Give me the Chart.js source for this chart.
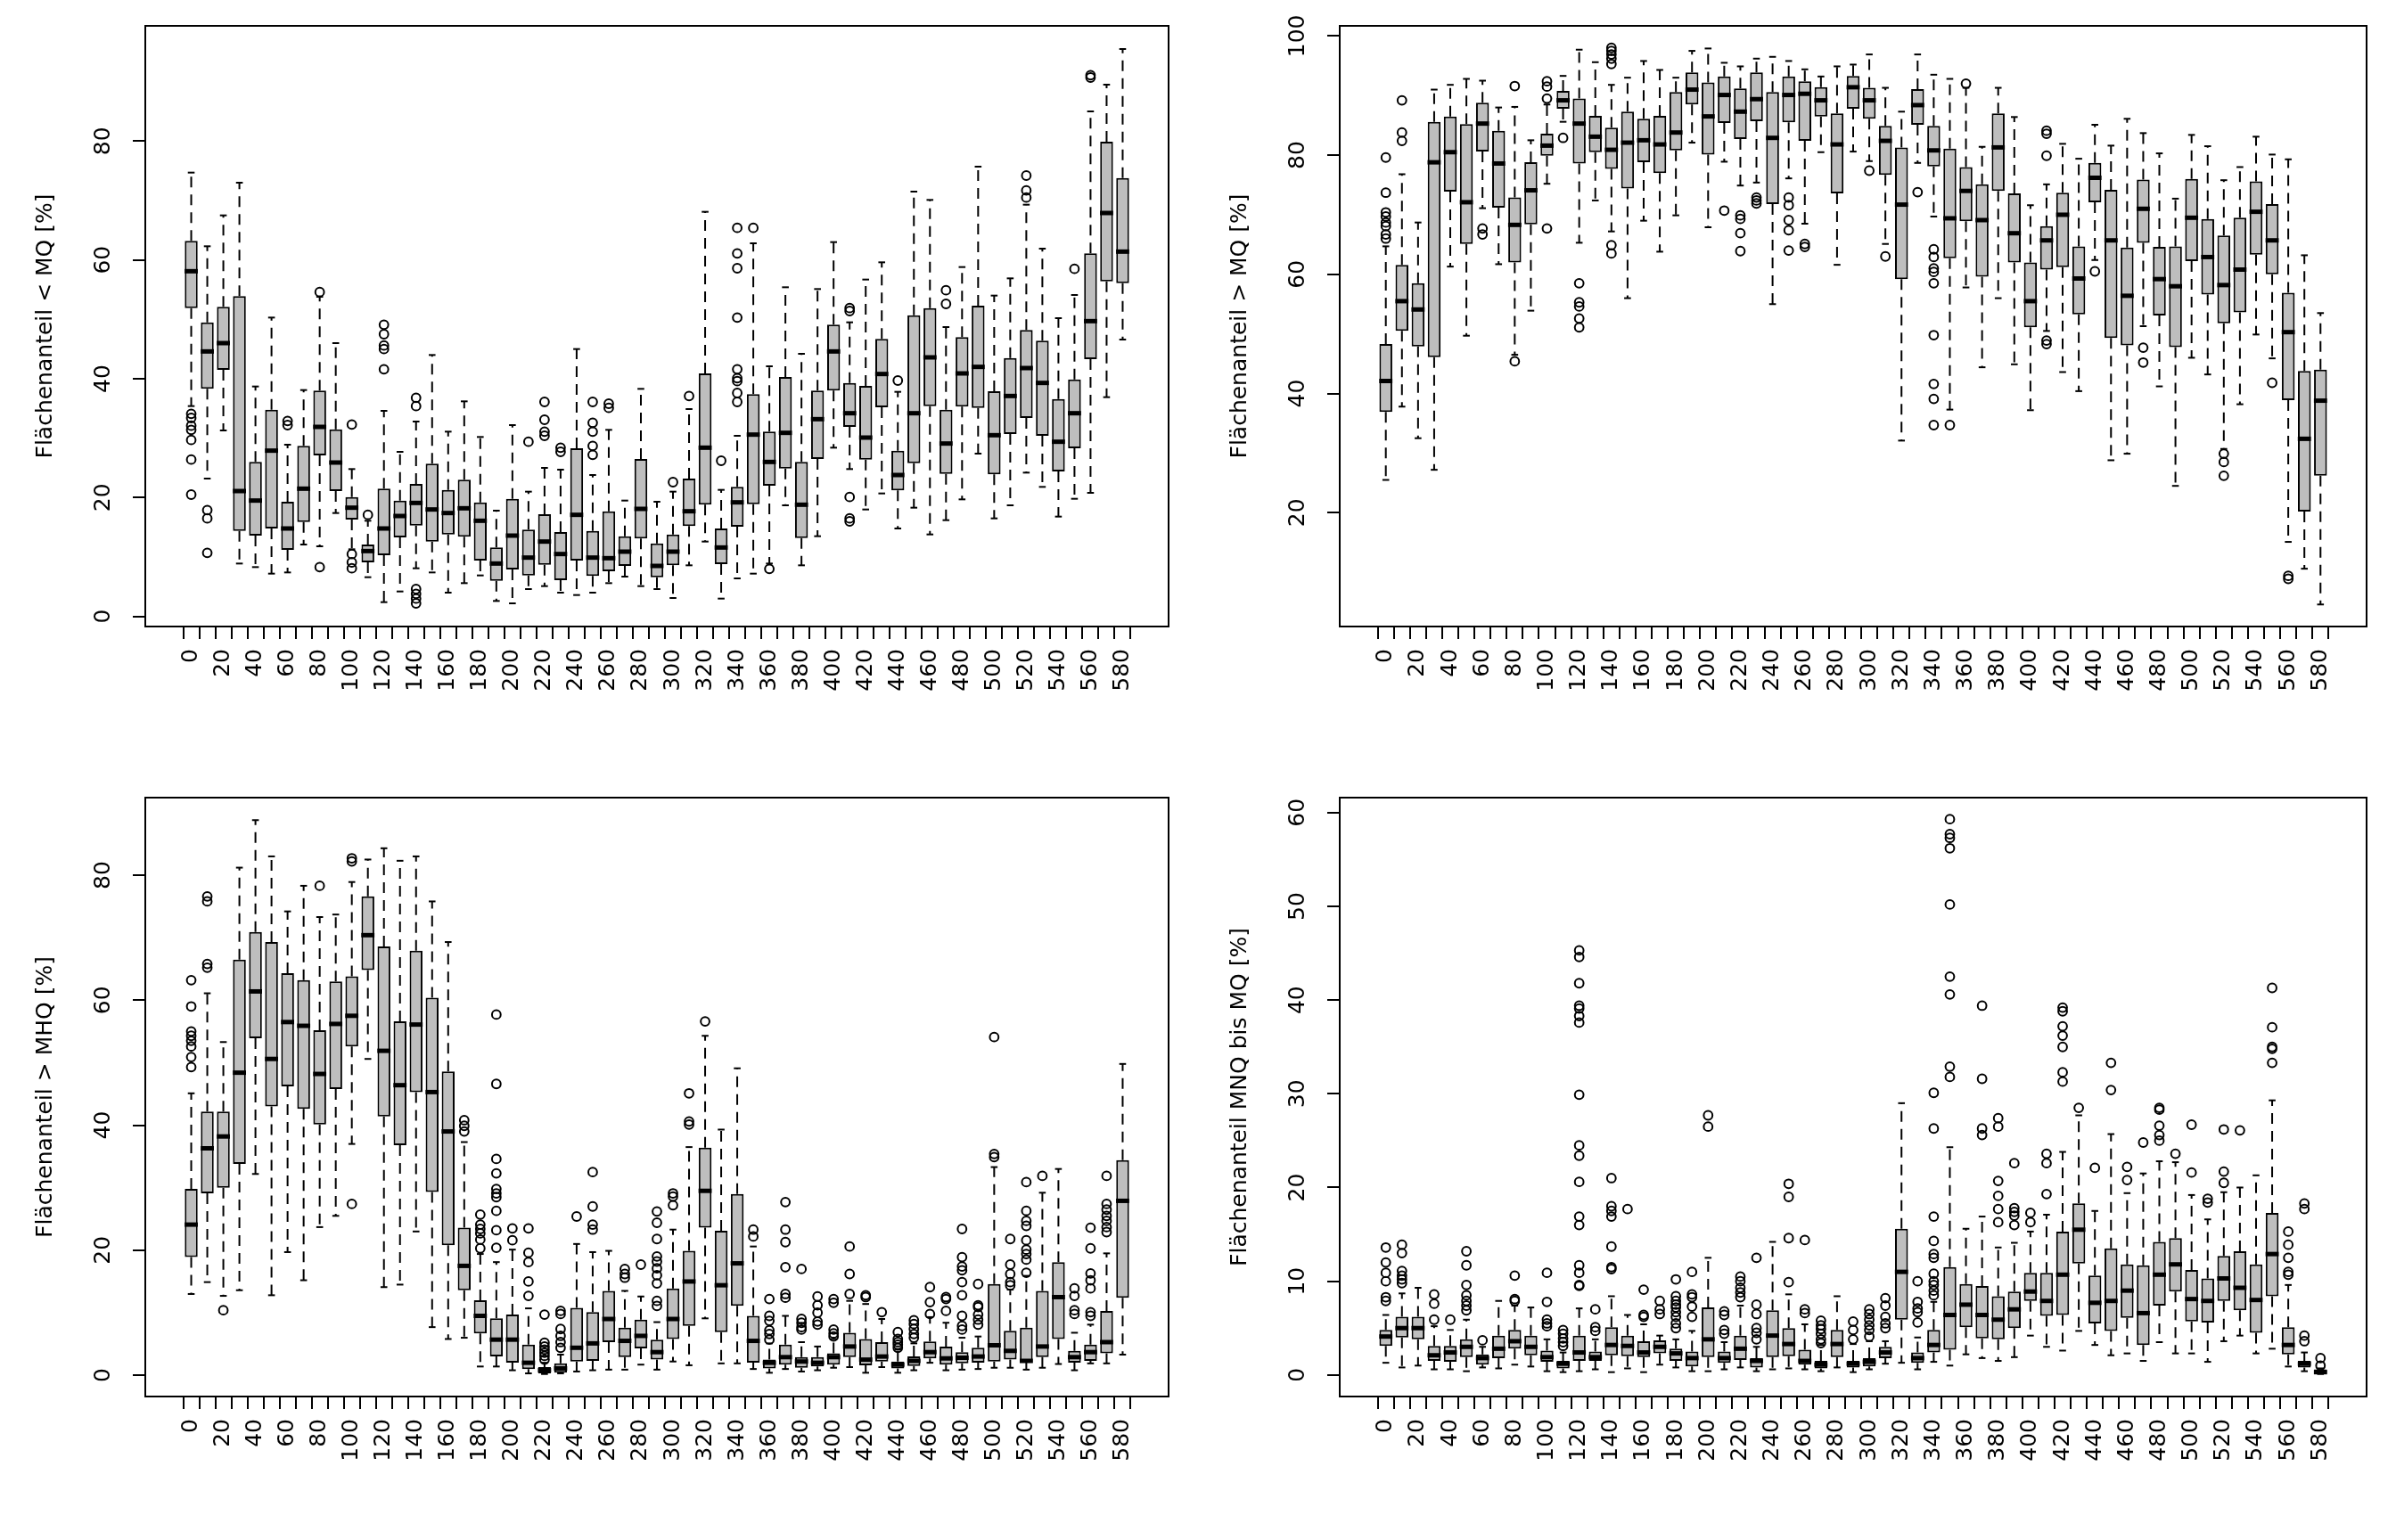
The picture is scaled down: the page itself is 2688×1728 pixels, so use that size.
<!DOCTYPE html>
<html>
<head>
<meta charset="utf-8">
<script src="https://cdn.jsdelivr.net/npm/chart.js@4.4.1/dist/chart.umd.min.js"></script>
<style>
  html, body { margin: 0; padding: 0; background: #fff; }
  #wrap { position: relative; width: 2688px; height: 1728px; background: #fff; }
  canvas { position: absolute; }
</style>
</head>
<body>
<div id="wrap">
  <canvas id="c1" width="1344" height="864" style="left:0;top:0"></canvas>
  <canvas id="c2" width="1344" height="864" style="left:1344px;top:0"></canvas>
  <canvas id="c3" width="1344" height="864" style="left:0;top:864px"></canvas>
  <canvas id="c4" width="1344" height="864" style="left:1344px;top:864px"></canvas>
</div>
<script>
// classes on the x axis
const classes = [0,10,20,30,40,50,60,70,80,90,100,110,120,130,140,150,160,170,180,190,
  200,210,220,230,240,250,260,270,280,290,300,310,320,330,340,350,360,370,380,390,
  400,410,420,430,440,450,460,470,480,490,500,510,520,530,540,550,560,570,580];

const yTicksPct = [0, 20, 40, 60, 80];
const yTicksHigh = [20, 40, 60, 80, 100];
const yTicksMnq = [0, 10, 20, 30, 40, 50, 60];

// ---- panel 1: Flächenanteil < MQ
const p1Lo = [35.4,23.2,31.3,8.9,8.3,7.2,7.4,12.1,11.8,17.4,11.3,6.6,2.4,4.2,8.1,7.4,4.0,5.6,6.9,2.6,
  2.2,4.6,5.1,4.0,3.6,4.0,5.6,6.7,5.1,4.6,3.1,8.6,12.6,3.0,6.4,7.2,8.9,18.7,8.6,13.5,
  28.4,24.8,18.0,20.7,14.8,18.3,13.8,16.2,19.7,27.4,16.5,18.7,24.2,21.8,16.8,19.8,20.8,36.9,46.6];
const p1Q1 = [51.9,38.3,41.5,14.4,13.6,14.8,11.2,15.9,27.1,21.1,16.3,9.1,10.3,13.3,15.3,12.6,13.8,13.4,9.4,6.0,
  7.9,6.9,8.7,6.1,9.4,6.8,7.6,8.5,13.1,6.6,8.6,15.2,18.8,8.8,15.1,18.9,22.0,24.9,13.2,26.5,
  38.0,31.9,26.4,35.2,21.2,25.8,35.4,24.0,35.3,35.1,23.9,30.7,33.4,30.4,24.4,28.3,43.3,56.4,56.1];
const p1Med = [58.1,44.6,46.0,21.1,19.5,27.9,14.8,21.5,31.9,25.9,18.3,11.0,14.8,16.9,19.1,18.0,17.4,18.2,16.1,8.9,
  13.6,9.9,12.6,10.5,17.1,9.9,9.8,10.9,18.1,8.5,10.9,17.7,28.4,11.6,19.2,30.6,26.0,30.9,18.8,33.2,
  44.6,34.2,30.1,40.8,23.8,34.2,43.6,29.1,40.9,42.0,30.5,37.1,41.8,39.3,29.4,34.2,49.7,67.9,61.4];
const p1Q3 = [63.2,49.5,52.1,53.9,26.0,34.8,19.3,28.7,38.0,31.5,20.1,12.1,21.5,19.5,22.3,25.7,21.3,23.0,19.2,11.6,
  19.8,14.6,17.2,14.2,28.3,14.4,17.7,13.5,26.5,12.3,13.8,23.2,40.9,14.8,21.8,37.4,31.1,40.3,26.0,38.0,
  49.1,39.3,38.8,46.7,27.9,50.7,51.9,34.8,47.0,52.3,37.9,43.5,48.2,46.4,36.6,39.9,61.1,79.9,73.8];
const p1Hi = [74.7,62.3,67.5,73.0,38.7,50.3,28.9,38.1,53.8,46.0,24.8,16.1,34.6,27.7,32.8,44.0,31.1,36.2,30.2,17.8,
  32.2,21.0,25.0,24.7,45.0,23.8,31.4,19.5,38.3,19.3,21.0,34.9,68.1,21.3,30.4,62.8,42.1,55.4,44.2,55.1,
  63.0,49.5,56.7,59.6,37.8,71.5,70.1,48.7,58.8,75.7,54.0,56.9,69.3,61.9,50.2,54.1,85.0,89.5,95.5];
const p1Out = [[34.1,33.4,32.1,31.4,29.7,26.4,20.5],[17.9,16.5,10.7],[],[],[],[],[32.9,32.2],[],[54.6,8.3],[],
  [32.3,10.5,9.1,8.1],[17.1],[49.1,47.5,45.6,45.0,41.6],[],[36.8,35.4,4.6,3.8,3.0,2.2],[],[],[],[],[],
  [],[29.4],[36.1,33.1,31.1,30.4],[28.4,27.7],[],[36.1,32.6,31.1,28.7,27.2],[35.8,35.1],[],[],[],
  [22.6],[37.1],[],[26.2],[65.4,61.1,58.6,50.3,41.6,40.1,39.6,37.6,36.1],[65.4],[8.0],[],[],[],
  [],[51.9,51.4,20.1,16.5,16.0],[],[],[39.7],[],[],[54.9,52.6],[],[],
  [],[],[74.2,71.7,70.5],[],[],[58.5],[91.1,90.7],[],[]];

// ---- panel 2: Flächenanteil > MQ
const p2Lo = [25.5,37.8,32.5,27.2,61.3,49.7,71.1,61.7,46.5,53.9,75.2,85.6,65.3,72.4,67.2,56.0,69.0,63.8,69.9,82.1,
  67.9,78.9,74.9,75.4,55.0,76.1,68.5,80.5,61.6,80.6,79.0,65.1,32.1,78.7,69.7,37.3,57.8,44.4,56.0,44.9,
  37.2,50.5,43.6,40.4,62.4,28.8,29.9,51.3,41.2,24.5,46.0,43.2,30.7,38.2,49.9,45.9,15.1,10.6,4.6];
const p2Q1 = [36.9,50.5,47.9,46.1,73.9,65.1,80.6,71.2,62.0,68.4,79.9,87.8,78.6,80.5,77.7,74.4,78.8,77.0,80.8,88.5,
  80.1,85.4,82.7,85.7,71.8,85.5,82.4,86.5,73.6,87.8,86.1,76.7,59.2,85.1,78.1,62.7,68.9,59.6,74.0,62.0,
  51.1,60.8,61.2,53.3,72.1,49.3,48.1,65.3,53.1,47.8,62.2,56.6,51.8,53.6,63.3,60.0,38.9,20.2,26.2];
const p2Med = [42.1,55.5,54.1,78.8,80.5,72.1,85.3,78.6,68.3,74.1,81.6,89.2,85.3,83.1,80.9,82.1,82.5,81.8,83.8,91.0,
  86.5,90.1,87.3,89.4,82.9,90.1,90.3,89.2,81.8,91.4,89.2,82.4,71.7,88.4,80.8,69.4,74.0,69.1,81.3,66.9,
  55.5,65.7,70.0,59.3,76.2,65.7,56.4,71.0,59.2,58.0,69.5,62.9,58.2,60.8,70.5,65.7,50.3,32.4,38.8];
const p2Q3 = [48.3,61.6,58.5,85.6,86.5,85.2,88.8,84.1,72.9,78.8,83.6,90.8,89.5,86.6,84.6,87.3,86.1,86.6,90.6,93.9,
  92.2,93.2,91.2,93.9,90.6,93.2,92.4,91.4,87.0,93.3,91.3,84.9,81.3,91.1,84.9,81.1,78.0,75.1,87.0,73.6,
  62.0,68.1,73.7,64.7,78.7,74.2,64.5,75.9,64.6,64.7,76.0,69.3,66.5,69.5,75.6,71.8,56.9,43.8,44.0];
const p2Hi = [64.7,76.8,68.7,91.0,91.8,92.8,92.5,88.0,88.1,82.5,88.5,93.3,97.7,95.6,91.8,93.0,95.8,94.3,93.0,97.5,
  97.9,95.5,94.9,96.2,96.5,95.8,94.4,93.2,94.9,95.2,96.9,91.3,87.3,96.9,93.5,92.8,91.3,81.4,91.3,86.4,
  71.6,75.1,81.9,79.4,85.1,81.6,86.1,83.7,80.3,72.7,83.4,81.5,75.8,78.0,83.1,80.1,79.3,63.2,53.5];
const p2Out = [[79.6,73.7,70.4,69.7,68.7,68.1,66.7,66.0],[89.2,83.8,82.4],[],[],[],[],[67.7,66.7],[],[91.6,45.4],[],
  [92.4,91.5,89.5,67.7],[82.9],[58.5,55.3,54.6,52.6,51.1],[],[98.0,97.5,96.9,96.2,95.3,64.9,63.5],[],[],[],[],[],
  [],[70.7],[69.9,69.3,66.9,63.9],[72.9,72.4,71.9],[],[72.9,71.6,69.1,67.4,64.0],[65.1,64.6],[],[],[],
  [77.4],[63.0],[],[73.8],[64.2,62.9,61.0,60.4,58.5,49.8,41.6,39.1,34.7],[34.7],[92.0],[],[],[],
  [],[84.1,83.6,79.9,48.9,48.3],[],[],[60.5],[],[],[47.7,45.2],[],[],
  [],[],[29.9,28.5,26.2],[],[],[41.8],[9.4,8.9],[],[]];

// ---- panel 3: Flächenanteil > MHQ
const p3Lo = [13.0,14.9,12.7,13.6,32.2,12.8,19.7,15.2,23.7,25.5,37.0,50.6,14.1,14.5,23.0,7.7,5.8,6.0,1.4,1.4,
  0.8,0.3,0.2,0.3,0.6,0.8,0.9,0.9,1.7,0.9,2.2,1.6,9.1,1.9,1.9,1.0,0.4,1.0,0.6,0.8,
  1.2,1.3,0.4,1.3,0.4,0.8,2.0,0.8,0.9,1.0,1.2,1.2,0.9,1.2,1.8,0.8,1.9,1.9,3.3];
const p3Q1 = [18.9,29.1,30.0,33.8,53.9,43.0,46.2,42.6,40.1,45.8,52.6,64.8,41.4,36.8,45.3,29.3,20.8,13.6,6.7,3.0,
  2.0,1.0,0.3,0.4,2.2,2.3,5.3,2.9,4.3,2.5,5.8,7.9,23.6,6.9,11.1,2.0,1.1,1.7,1.2,1.4,
  1.7,2.9,1.6,2.2,1.1,1.5,2.7,1.7,1.9,2.0,2.2,2.5,2.0,2.9,5.8,2.0,2.3,3.5,12.4];
const p3Med = [24.1,36.3,38.2,48.4,61.4,50.6,56.5,55.9,48.2,56.2,57.5,70.4,51.9,46.4,56.1,45.3,39.0,17.5,9.5,5.7,
  5.7,2.0,0.8,1.1,4.4,5.1,9.0,5.5,6.3,3.7,9.0,15.0,29.5,14.4,17.9,5.5,2.0,2.9,2.2,2.0,
  2.9,4.6,2.5,3.0,1.7,2.3,3.7,2.7,2.8,3.0,4.8,3.9,2.3,4.6,12.5,2.9,3.7,5.3,27.9];
const p3Q3 = [29.8,42.2,42.2,66.5,70.9,69.3,64.3,63.2,55.2,63.0,63.8,76.6,68.6,56.6,67.9,60.4,48.6,23.6,12.0,9.1,
  9.7,4.9,1.3,1.9,10.8,10.1,13.5,7.6,8.9,5.7,13.9,19.9,36.4,23.1,29.0,9.5,2.5,4.9,2.9,2.9,
  3.5,6.8,5.8,5.3,2.2,3.0,5.4,4.6,3.7,4.4,14.6,7.1,7.6,13.5,18.1,3.9,4.9,10.3,34.4];
const p3Hi = [45.1,61.1,53.3,81.2,88.8,83.0,74.2,78.3,73.3,73.7,78.9,82.5,84.3,82.3,83.0,75.8,69.3,37.3,19.4,18.1,
  20.1,10.7,2.0,3.3,21.0,19.7,19.9,13.5,12.6,8.5,23.3,36.5,54.3,39.3,49.1,20.6,5.1,9.5,5.3,4.6,
  5.8,11.9,11.4,9.0,4.1,5.1,9.3,8.4,6.0,6.2,33.3,13.7,15.9,29.2,33.0,6.8,8.1,19.5,49.8];
const p3Out = [[63.2,59.0,55.0,54.3,53.5,52.6,50.9,49.3],[76.6,75.8,65.8,65.2],[10.4],[],[],[],[],[],[78.3],[],
  [82.7,82.2,27.4],[],[],[],[],[],[],[40.8,39.9,39.0],[25.7,24.1,23.4,22.7,21.7,20.3],[57.7,46.6,34.6,32.3,29.8,29.1,28.5,26.3,23.2,20.4],
  [23.5,21.6],[23.5,19.6,18.1,15.0,12.7],[9.7,5.2,4.6,4.1,3.6,3.1,2.5],[10.3,9.8,7.4,6.3,5.3,4.4],[25.4],[32.5,27.0,24.1,23.3],[],[17.0,16.2,15.6],[17.7],[26.2,24.4,21.8,19.0,18.2,17.1,16.0,14.7,11.9,11.1],
  [29.1,28.6,27.2],[45.1,40.6,40.1],[56.6],[],[],[23.3,22.2],[12.2,9.5,8.7,7.2,6.6,5.7],[27.7,23.3,21.3,17.3,13.0,12.4],[17.0,9.0,8.4,7.7,7.3],[12.6,11.2,10.0,8.6,8.1],
  [12.2,11.6,7.3,6.7,6.2],[20.6,16.2,13.0],[12.8,12.5],[10.1],[6.9,5.8,5.3,4.9,4.4],[8.8,8.2,7.4,6.6,6.0],[14.1,11.7,9.8],[12.5,12.2,10.3],[23.4,18.9,17.4,16.8,14.9,12.8,9.5,7.9,7.3],[14.6,11.2,10.9,9.7,8.9,8.1],
  [54.1,35.4,34.9],[21.8,17.7,16.2,14.9,14.4],[30.9,26.3,24.7,23.9,21.6,20.1,19.4,18.5,16.4],[31.9],[],[13.9,12.7,10.4,9.8],[23.6,20.3,16.3,15.2,13.9,10.1,9.5],[31.9,27.4,26.5,25.5,24.7,23.7,22.9],[]];

// ---- panel 4: Flächenanteil MNQ bis MQ
const p4Lo = [1.3,0.8,1.0,0.6,0.6,0.4,0.8,0.7,1.1,0.9,0.4,0.3,0.4,0.6,0.3,0.7,0.3,1.1,0.8,0.4,
  0.4,0.6,0.8,0.4,0.6,0.7,0.6,0.4,0.8,0.3,0.6,1.2,1.3,0.6,1.4,1.0,2.2,1.8,1.5,1.9,
  4.2,3.0,2.6,4.7,3.2,2.1,2.3,1.5,3.5,2.3,2.3,1.4,3.6,4.2,2.3,2.8,0.9,0.4,0.1];
const p4Q1 = [3.1,4.0,3.8,1.5,1.4,1.9,1.1,1.8,2.8,2.1,1.4,0.7,1.5,1.5,2.1,2.0,1.9,2.3,1.5,0.9,
  1.9,1.3,1.6,0.8,1.9,2.0,1.1,0.7,1.9,0.8,0.9,1.8,5.9,1.3,2.4,2.7,5.1,3.9,3.8,5.0,
  7.9,6.3,6.4,11.9,5.5,4.7,6.1,3.2,7.4,8.9,5.7,5.6,7.9,6.9,4.5,8.4,2.2,0.8,0.2];
const p4Med = [4.1,5.0,5.0,2.1,2.4,3.0,1.8,2.8,3.6,3.0,1.9,1.2,2.4,1.9,3.2,3.1,2.4,3.0,2.3,1.8,
  3.8,1.8,2.8,1.5,4.2,3.3,1.5,1.1,3.3,1.2,1.4,2.4,11.0,1.8,3.2,6.4,7.5,6.4,5.9,7.0,
  8.9,7.9,10.7,15.5,7.7,7.9,9.0,6.6,10.7,11.8,8.1,7.9,10.3,9.3,8.0,12.9,3.2,1.2,0.3];
const p4Q3 = [4.8,6.2,6.2,3.1,3.1,3.8,2.2,4.2,4.8,4.2,2.6,1.5,4.2,2.5,5.1,4.2,3.6,3.7,2.8,2.5,
  7.2,2.5,4.2,1.8,6.9,5.0,2.7,1.5,4.8,1.5,1.8,3.0,15.6,2.4,4.8,11.5,9.7,9.5,8.4,8.9,
  10.9,10.9,15.3,18.3,10.6,13.5,11.8,11.7,14.2,14.6,11.2,10.3,12.7,13.2,11.8,17.3,5.1,1.5,0.6];
const p4Hi = [6.4,8.7,9.3,5.2,4.8,5.9,3.0,7.9,7.4,7.2,3.8,2.4,7.1,3.8,8.4,6.4,5.4,4.2,3.8,4.7,
  12.5,3.5,7.4,3.0,14.2,8.6,5.4,3.2,8.4,3.3,3.6,3.6,29.0,4.0,7.8,24.3,15.6,16.9,13.6,14.1,
  15.3,17.1,23.8,27.7,17.5,25.7,19.4,21.5,22.8,22.7,19.2,16.6,19.5,20.0,21.3,29.3,9.6,2.4,0.7];
const p4Out = [[13.6,12.0,10.9,10.0,8.3,7.9],[13.9,13.0,11.1,10.6,10.2,9.8],[],[8.6,7.6,5.9],[5.9],[13.2,11.7,9.6,8.5,7.9,7.4,6.9],[3.7],[],[10.6,8.1,7.9],[],
  [10.9,7.8,5.9,5.5,5.2],[4.8,4.4,3.9,3.5,3.1],[45.3,44.6,41.8,39.4,39.1,38.3,37.6,29.9,24.5,23.4,20.6,16.9,16.0,11.7,10.9,9.6,9.5],[7.0,5.1,4.7],[21.0,18.0,17.5,16.9,13.7,11.5,11.3],[17.7],[9.1,6.4,6.2],[7.9,7.0,6.5],[10.2,8.4,7.9,7.5,7.2,6.7,6.2,5.5,5.0],[11.0,8.6,8.3,7.3,6.2],
  [27.7,26.5],[6.8,6.4,4.8,4.4],[10.5,10.0,9.3,8.8,8.3],[12.5,7.5,6.5,5.0,4.5,3.8],[],[20.4,19.0,14.6,9.9],[14.4,7.0,6.6],[5.8,5.3,4.9,4.4,3.8,3.4],[],[5.7,4.8,3.8],
  [7.0,6.5,5.9,5.3,4.8,4.1],[8.2,7.4,6.2,5.5,5.0],[],[10.0,7.8,7.1,6.7,5.6],[30.1,26.3,16.9,14.3,12.9,12.5,10.8,10.0,9.6,9.0,8.5],[59.3,57.7,57.3,56.2,50.2,42.5,40.6,32.9,31.8],[],[39.4,31.6,26.3,25.6],[27.4,26.5,20.7,19.1,17.7,16.3],[22.6,17.8,17.4,17.0,16.0],
  [17.3,16.3],[23.6,22.6,19.3],[39.2,38.8,37.2,36.2,35.0,32.3,31.3],[28.5],[22.1],[33.3,30.4],[22.2,20.8],[24.8],[28.5,28.3,26.6,25.6,25.0],[23.6],
  [26.7,21.6],[18.8,18.4],[26.2,21.7,20.5],[26.1],[],[41.3,37.1,35.0,34.8,33.3],[15.3,13.9,12.5,11.0,10.7],[18.3,17.7,4.2,3.6],[1.8,1.0]];

const FONT = 'DejaVu Sans';
const FSIZE = 25;
const W = 1344, H = 864;

const panels = [
  { id: 'c1', title: 'Flächenanteil < MQ [%]', lo: p1Lo, q1: p1Q1, med: p1Med, q3: p1Q3, hi: p1Hi, out: p1Out,
    yMin: -1.7, yMax: 99.4, yTicks: yTicksPct, frame: { l: 163, r: 1311, t: 29, b: 703 } },
  { id: 'c2', title: 'Flächenanteil > MQ [%]', lo: p2Lo, q1: p2Q1, med: p2Med, q3: p2Q3, hi: p2Hi, out: p2Out,
    yMin: 0.9, yMax: 101.7, yTicks: yTicksHigh, frame: { l: 159, r: 1311, t: 29, b: 703 } },
  { id: 'c3', title: 'Flächenanteil > MHQ [%]', lo: p3Lo, q1: p3Q1, med: p3Med, q3: p3Q3, hi: p3Hi, out: p3Out,
    yMin: -3.4, yMax: 92.4, yTicks: yTicksPct, frame: { l: 163, r: 1311, t: 31, b: 703 } },
  { id: 'c4', title: 'Flächenanteil MNQ bis MQ [%]', lo: p4Lo, q1: p4Q1, med: p4Med, q3: p4Q3, hi: p4Hi, out: p4Out,
    yMin: -2.3, yMax: 61.6, yTicks: yTicksMnq, frame: { l: 159, r: 1311, t: 31, b: 703 } }
];

// frame round the plot region and vertical y tick labels, R style
const rAxes = {
  id: 'rAxes',
  afterDraw(chart) {
    const { ctx, chartArea: a } = chart;
    const y = chart.scales.y;
    ctx.save();
    ctx.strokeStyle = '#000';
    ctx.lineWidth = 2;
    ctx.strokeRect(a.left, a.top, a.right - a.left, a.bottom - a.top);
    ctx.fillStyle = '#000';
    ctx.font = `${FSIZE}px "${FONT}"`;
    ctx.textAlign = 'center';
    ctx.textBaseline = 'alphabetic';
    y.ticks.forEach(t => {
      ctx.save();
      ctx.translate(a.left - 40, y.getPixelForValue(t.value));
      ctx.rotate(-Math.PI / 2);
      ctx.fillText(String(t.value), 0, 0);
      ctx.restore();
    });
    ctx.restore();
  }
};

function makeChart(p) {
  const whiskers = [], boxes = [], caps = [], medians = [], outliers = [];
  classes.forEach((c, i) => {
    const x = i + 1;
    whiskers.push({ x, y: p.q3[i] }, { x, y: p.hi[i] }, { x, y: null },
                  { x, y: p.q1[i] }, { x, y: p.lo[i] }, { x, y: null });
    boxes.push({ x, y: [p.q1[i], p.q3[i]] });
    caps.push({ x, y: p.hi[i] }, { x, y: p.lo[i] });
    medians.push({ x, y: p.med[i] });
    p.out[i].forEach(v => outliers.push({ x, y: v }));
  });

  const f = p.frame;
  new Chart(document.getElementById(p.id), {
    type: 'bar',
    data: {
      datasets: [
        { type: 'line', data: whiskers, borderColor: '#000', borderWidth: 2, borderDash: [12, 8],
          pointRadius: 0, spanGaps: false, fill: false, tension: 0, order: 4 },
        { type: 'bar', data: boxes, backgroundColor: '#bebebe', borderColor: '#000', borderWidth: 2,
          borderSkipped: false, barPercentage: 0.8, categoryPercentage: 1, order: 3 },
        { type: 'scatter', data: caps, pointStyle: 'line', pointRadius: 3.8, borderColor: '#000',
          borderWidth: 2, order: 2 },
        { type: 'scatter', data: medians, pointStyle: 'line', pointRadius: 7.4, borderColor: '#000',
          borderWidth: 5, order: 1 },
        { type: 'scatter', data: outliers, pointStyle: 'circle', pointRadius: 4.9, borderColor: '#000',
          backgroundColor: 'rgba(0,0,0,0)', borderWidth: 2, order: 0 }
      ]
    },
    options: {
      responsive: false,
      animation: false,
      devicePixelRatio: 1,
      events: [],
      layout: { padding: { left: 0, top: f.t, right: W - f.r, bottom: 0 } },
      plugins: { legend: { display: false }, tooltip: { enabled: false } },
      scales: {
        x: {
          type: 'linear',
          min: -1.86,
          max: 61.86,
          offset: false,
          afterBuildTicks: s => { s.ticks = classes.map((c, i) => ({ value: i + 1 })); },
          afterFit: s => { s.height = H - f.b; },
          ticks: {
            autoSkip: false, minRotation: 90, maxRotation: 90, padding: 11, color: '#000',
            font: { family: FONT, size: FSIZE },
            callback: (v, i) => (i % 2 === 0 ? String(classes[i]) : '')
          },
          grid: { display: true, drawOnChartArea: false, drawTicks: true, tickLength: 14, color: '#000', lineWidth: 2 },
          border: { display: false }
        },
        y: {
          type: 'linear',
          min: p.yMin,
          max: p.yMax,
          afterBuildTicks: s => { s.ticks = p.yTicks.map(v => ({ value: v })); },
          afterFit: s => { s.width = f.l; },
          ticks: { display: false },
          grid: { display: true, drawOnChartArea: false, drawTicks: true, tickLength: 14, color: '#000', lineWidth: 2 },
          border: { display: false },
          title: { display: true, text: p.title, color: '#000', font: { family: FONT, size: FSIZE },
                   padding: { top: f.l - 112 - FSIZE * 0.6, bottom: 0 } }
        }
      }
    },
    plugins: [rAxes]
  });
}

panels.forEach(makeChart);
</script>
</body>
</html>
